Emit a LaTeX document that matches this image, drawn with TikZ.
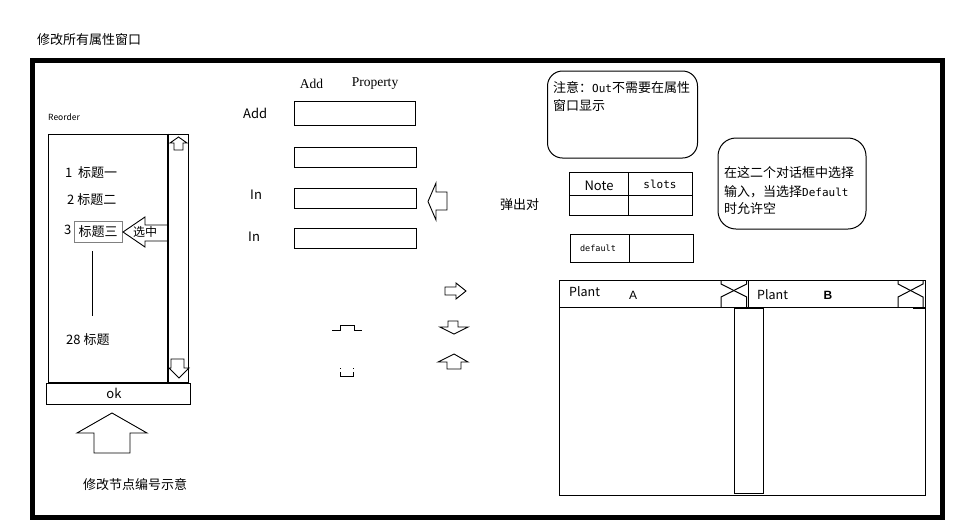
\documentclass[tikz,border=0pt]{standalone}
\usepackage{fontspec}
\setmainfont{Noto Sans CJK SC}
\newfontfamily\serifA{Liberation Serif}
\newfontfamily\monoA{DejaVu Sans Mono}
\newfontfamily\sansB{Liberation Sans}
\begin{document}
\begin{tikzpicture}[x=1pt,y=-1pt,
  txt/.style={inner sep=0pt, anchor=west, font=\fontsize{13}{15}\selectfont},
  ctxt/.style={inner sep=0pt, font=\fontsize{13}{15}\selectfont},
  ln/.style={draw=black, line width=1pt},
  fieldbox/.style={draw=black, line width=1pt, inner sep=0pt},
  blockarrow/.style={draw=black, line width=0.9pt, line join=miter},
  notebox/.style={draw=black, line width=1pt, inner sep=0pt}
]
\useasboundingbox (0,0) rectangle (966,531);
\fill[white] (0,0) rectangle (966,531);

% title and frame
\node[txt] (title) at (37,40) {修改所有属性窗口};
\draw[line width=5pt] (32.5,60.5) rectangle (942,517);

% ---------------- left panel ----------------
\node[txt, font=\fontsize{8.5}{10}\selectfont] (reorder) at (48,117) {Reorder};
\node[fieldbox, minimum width=120pt, minimum height=248pt] (list) at (108,258) {};
\node[fieldbox, minimum width=20pt, minimum height=248pt] (scroll) at (178,258) {};
\draw[line width=2pt] (scroll.north west) -- (scroll.south west);
\draw[blockarrow] (178.5,137)--(187,143)--(183,143)--(183,150)--(174,150)--(174,143)--(170,143)--cycle;
\draw[blockarrow] (171,359)--(184,359)--(184,368)--(189,368)--(179,378)--(169,368)--(171,368)--cycle;

\node[txt] (it1) at (65,173) {1\ \ 标题一};
\node[txt] (it2) at (67,200) {2 标题二};
\node[txt] (it3n) at (64,230) {3};
\node[draw=gray, line width=1pt, minimum width=48pt, minimum height=21pt, inner sep=0pt,
      font=\fontsize{13}{15}\selectfont] (it3) at (98,231.5) {标题三};
\draw[blockarrow] (123,232)--(145,217)--(145,225)--(168,225)--(168,241)--(145,241)--(145,247)--cycle;
\node[txt, font=\fontsize{12}{14}\selectfont] (sel) at (133,232) {选中};
\coordinate (dotsTop) at (92,251);
\coordinate (dotsBot) at (92,316);
\draw[ln] (dotsTop) -- (dotsBot);
\node[txt] (it28) at (66,340) {28 标题};
\node[fieldbox, minimum width=144pt, minimum height=21pt, font=\fontsize{13}{15}\selectfont] (ok) at (118,393.5) {\hspace*{-8pt}ok};

\draw[blockarrow] (112,413)--(147,433)--(130,433)--(130,453)--(94,453)--(94,433)--(77,433)--cycle;
\node[txt] (cap) at (83,485) {修改节点编号示意};

% ---------------- middle ----------------
\node[inner sep=0pt, font=\serifA\fontsize{13.5}{15}\selectfont] (hAdd) at (311.5,84) {Add};
\node[inner sep=0pt, font=\serifA\fontsize{13.5}{15}\selectfont] (hProp) at (375,84) {Property};
\node[txt] (lAdd) at (243,113) {Add};
\node[fieldbox, minimum width=121pt, minimum height=24pt] (f1) at (354.5,113) {};
\node[fieldbox, minimum width=122pt, minimum height=20pt] (f2) at (355,157) {};
\node[fieldbox, minimum width=122pt, minimum height=20pt] (f3) at (355,198) {};
\node[fieldbox, minimum width=122pt, minimum height=20pt] (f4) at (355,238) {};
\node[txt] (lIn1) at (250,195) {In};
\node[txt] (lIn2) at (248,237) {In};

\draw[blockarrow] (428,201.5)--(436,183)--(436,192)--(447,192)--(447,210)--(436,210)--(436,220)--cycle;
\node[txt] (popup) at (500,205) {弹出对};

\draw[blockarrow] (445,287)--(456,287)--(456,283)--(466,291)--(456,299)--(456,295)--(445,295)--cycle;
\draw[blockarrow] (448,321)--(458,321)--(458,327)--(468,327)--(454,334)--(440,327)--(448,327)--cycle;
\draw[blockarrow] (454,354)--(468,362)--(461,362)--(461,369)--(447,369)--(447,362)--(438,362)--cycle;

\draw[line width=1pt] (332,330)--(340,330)--(340,325)--(354,325)--(354,330)--(362,330);
\fill (340,367.5) rectangle (341.2,368.7);
\fill (353,367.5) rectangle (354.2,368.7);
\draw[line width=1pt] (340.5,372)--(340.5,376)--(353.5,376)--(353.5,372);

% ---------------- right ----------------
\node[notebox, rounded corners=15pt, minimum width=150pt, minimum height=87pt] (note1) at (622.5,114.5) {};
\node[txt] (n1a) at (553,88) {注意：{\monoA\fontsize{11}{13}\selectfont Out}不需要在属性};
\node[txt] (n1b) at (553,105.5) {窗口显示};

\draw[ln] (569,172) rectangle (692,215);
\draw[ln] (628,172) -- (628,215);
\draw[ln] (569,195) -- (692,195);
\node[ctxt] (tNote) at (599,186) {Note};
\node[inner sep=0pt, font=\monoA\fontsize{11}{13}\selectfont] (tSlots) at (660,184) {slots};

\draw[ln] (570,234) rectangle (693,262);
\draw[ln] (629,234) -- (629,262);
\node[inner sep=0pt, font=\monoA\fontsize{8.5}{10}\selectfont] (tDef) at (598,248) {default};

\node[notebox, rounded corners=18pt, minimum width=148pt, minimum height=91pt] (note2) at (792,183.5) {};
\node[txt] (n2a) at (724,173) {在这二个对话框中选择};
\node[txt] (n2b) at (724,191.5) {输入，当选择{\monoA\fontsize{11}{13}\selectfont Default}};
\node[txt] (n2c) at (724,209) {时允许空};

% plant panel
\draw[ln] (559,280) rectangle (925,495);
\draw[ln] (559,307) -- (925,307);
\draw[ln] (748,280) -- (748,307);
\node[fieldbox, minimum width=29pt, minimum height=185.5pt] (mid) at (749,400.75) {};
\draw[line width=2pt] (734.5,308) -- (763.5,308);
\node[txt, font=\fontsize{12.5}{14}\selectfont] (pA) at (569,292) {Plant};
\node[inner sep=0pt, font=\sansB\fontsize{12}{14}\selectfont] (lA) at (633,295) {A};
\node[txt, font=\fontsize{12.5}{14}\selectfont] (pB) at (757,295) {Plant};
\node[inner sep=0pt, font=\sansB\bfseries\fontsize{12}{14}\selectfont] (lB) at (828,295) {B};

\draw[line width=1pt] (721,280)--(721,284)--(746.7,297)--(746.7,307);
\draw[line width=1pt] (746.7,280)--(746.7,284)--(721,297)--(721,307);
\draw[line width=1pt] (898,280)--(898,284)--(923,297)--(923,307);
\draw[line width=1pt] (923,280)--(923,284)--(898,297)--(898,307);
\draw[line width=2pt] (913,307.5) -- (925,307.5);
\end{tikzpicture}
\end{document}
